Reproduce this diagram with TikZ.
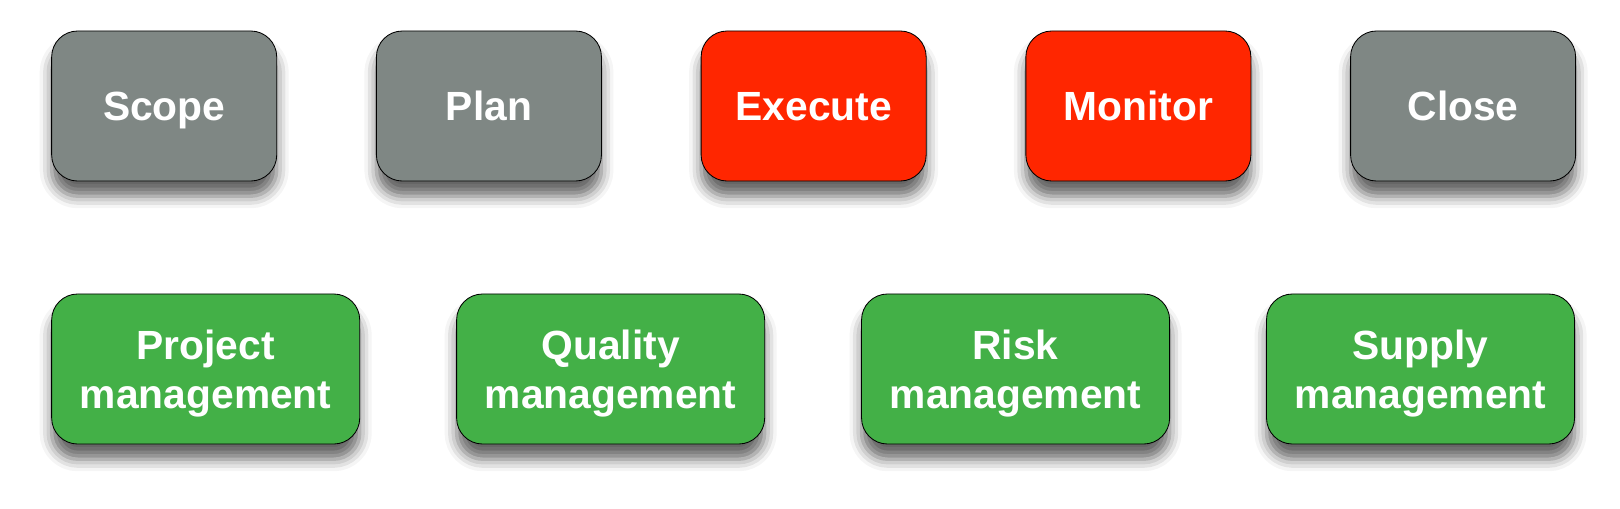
\documentclass[tikz,border=0pt]{standalone}
\usepackage{fontspec}
\setmainfont{Liberation Sans}
\definecolor{phaseGray}{RGB}{127, 135, 132}
\definecolor{phaseRed}{RGB}{255, 38, 0}
\definecolor{areaGreen}{RGB}{67, 176, 71}
\usetikzlibrary{positioning, shadows.blur}

\begin{document}
\begin{tikzpicture}[
    x=0.025cm, y=-0.025cm,
    phase/.style={rectangle, draw=black, line width=0.6pt, minimum width=5.625cm,
                  minimum height=3.75cm, rounded corners=0.65cm, align=center,
                  text=white, font=\fontsize{29}{34.7}\selectfont\bfseries,
                  text height=20.8pt, text depth=0pt,
                  blur shadow={shadow xshift=0pt, shadow yshift=-0.38cm,
                               shadow blur radius=0.3cm, shadow opacity=60}},
    area/.style={phase, minimum width=7.7cm, fill=areaGreen, text height=55.5pt},
  ]
    \useasboundingbox (0,0) rectangle (1620,508);

    \node[phase, fill=phaseGray] (SCOPE) at (164.2,106) {Scope};
    \node[phase, fill=phaseGray, right=2.47cm of SCOPE] (PLAN) {Plan};
    \node[phase, fill=phaseRed, right=2.47cm of PLAN] (EXEC) {Execute};
    \node[phase, fill=phaseRed, right=2.47cm of EXEC] (MON) {Monitor};
    \node[phase, fill=phaseGray, right=2.47cm of MON] (CLOSE) {Close};

    \node[area] (PROJ) at (205.7,369) {Project\\management};
    \node[area, right=2.4cm of PROJ] (QUAL) {Quality\\management};
    \node[area, right=2.4cm of QUAL] (RISK) {Risk\\management};
    \node[area, right=2.4cm of RISK] (SUPP) {Supply\\management};
  \end{tikzpicture}
\end{document}
